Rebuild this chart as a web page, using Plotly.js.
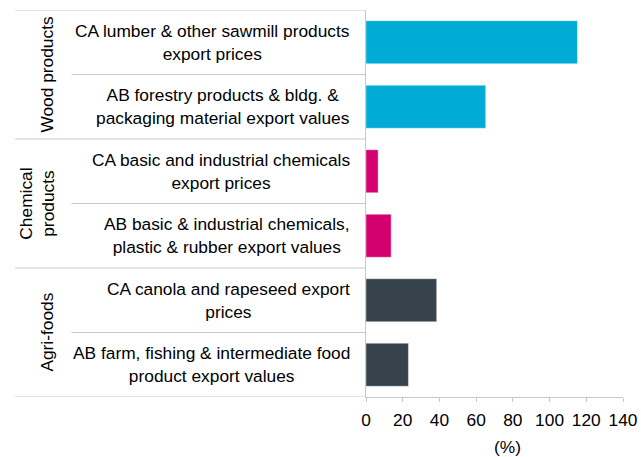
<!DOCTYPE html>
<html>
<head>
<meta charset="utf-8">
<script src="https://cdn.plot.ly/plotly-3.0.1.min.js"></script>
<style>html,body{margin:0;padding:0;background:#fff;}#chart{width:641px;height:457px;}</style>
</head>
<body>
<div id="chart"></div>
<script>
// Data
const categories = [
  "CA lumber & other sawmill products<br>export prices",
  "AB forestry products & bldg. &<br>packaging material export values",
  "CA basic and industrial chemicals<br>export prices",
  "AB basic & industrial chemicals,<br>plastic & rubber export values",
  "CA canola and rapeseed export<br>prices",
  "AB farm, fishing & intermediate food<br>product export values"
];
const values = [115.2, 65.2, 6.6, 13.7, 38.5, 23.1];
const groups = ["Wood products", "Chemical<br>products", "Agri-foods"];
const groupSizes = [2, 2, 2];
const groupColors = ["#00ABD5", "#D5006F", "#36434B"];
const xTicks = [0, 20, 40, 60, 80, 100, 120, 140];

const barColors = [];
groups.forEach((g, i) => { for (let k = 0; k < groupSizes[i]; k++) barColors.push(groupColors[i]); });
const ids = categories.map((c, i) => "c" + i);

const plotL = 365.5, plotW = 257.5;
const px = v => (v - plotL) / plotW;

const font = {family: "Liberation Sans, Arial, sans-serif", size: 17.33, color: "#000"};
const lineColor = "#C8C8C8";

const annotations = [];
const shapes = [];
// category labels
categories.forEach((c, i) => {
  annotations.push({xref: "paper", yref: "y", x: px(351), y: i, text: c, showarrow: false,
    xanchor: "right", yanchor: "middle", align: "center", font: font});
});
// group labels and separators
let start = 0;
shapes.push({type: "line", xref: "paper", yref: "y", x0: px(14), x1: 0, y0: -0.5, y1: -0.5,
  line: {color: lineColor, width: 1}});
groups.forEach((g, i) => {
  const n = groupSizes[i];
  annotations.push({xref: "paper", yref: "y", x: px(i === 1 ? 36 : 45), y: start + (n - 1) / 2, text: g,
    showarrow: false, textangle: -90, xanchor: "center", yanchor: "middle", align: "center", font: font});
  for (let k = 1; k < n; k++) {
    shapes.push({type: "line", xref: "paper", yref: "y", x0: px(70.5), x1: 0, y0: start + k - 0.5, y1: start + k - 0.5,
      line: {color: lineColor, width: 1}});
  }
  start += n;
  shapes.push({type: "line", xref: "paper", yref: "y", x0: px(14), x1: 0, y0: start - 0.5, y1: start - 0.5,
    line: {color: lineColor, width: 1}});
});
// axis title
annotations.push({xref: "paper", yref: "paper", x: px(507), y: -0.13, text: "(%)", showarrow: false,
  xanchor: "center", yanchor: "middle", font: font});

const trace = {
  type: "bar", orientation: "h", x: values, y: ids,
  marker: {color: barColors, line: {color: "rgba(255,255,255,0.4)", width: 1}},
  hoverinfo: "x"
};

const layout = {
  width: 641, height: 457,
  margin: {l: 365.5, r: 18, t: 9.5, b: 60.3, pad: 0},
  paper_bgcolor: "#fff", plot_bgcolor: "#fff",
  showlegend: false,
  bargap: 0.333,
  font: font,
  xaxis: {range: [0, 140], tickvals: xTicks, ticktext: xTicks.map(String), showgrid: false, zeroline: false,
    showline: true, linecolor: lineColor, linewidth: 1, ticks: "outside", ticklen: 4, tickcolor: lineColor,
    tickfont: font, ticklabelstandoff: 3, fixedrange: true},
  yaxis: {type: "category", categoryorder: "array", categoryarray: ids, range: [5.5, -0.5],
    showticklabels: false, showgrid: false, zeroline: false, showline: true, linecolor: lineColor,
    linewidth: 1, ticks: "", fixedrange: true},
  annotations: annotations,
  shapes: shapes
};

Plotly.newPlot("chart", [trace], layout, {displayModeBar: false, staticPlot: true});
</script>
</body>
</html>
